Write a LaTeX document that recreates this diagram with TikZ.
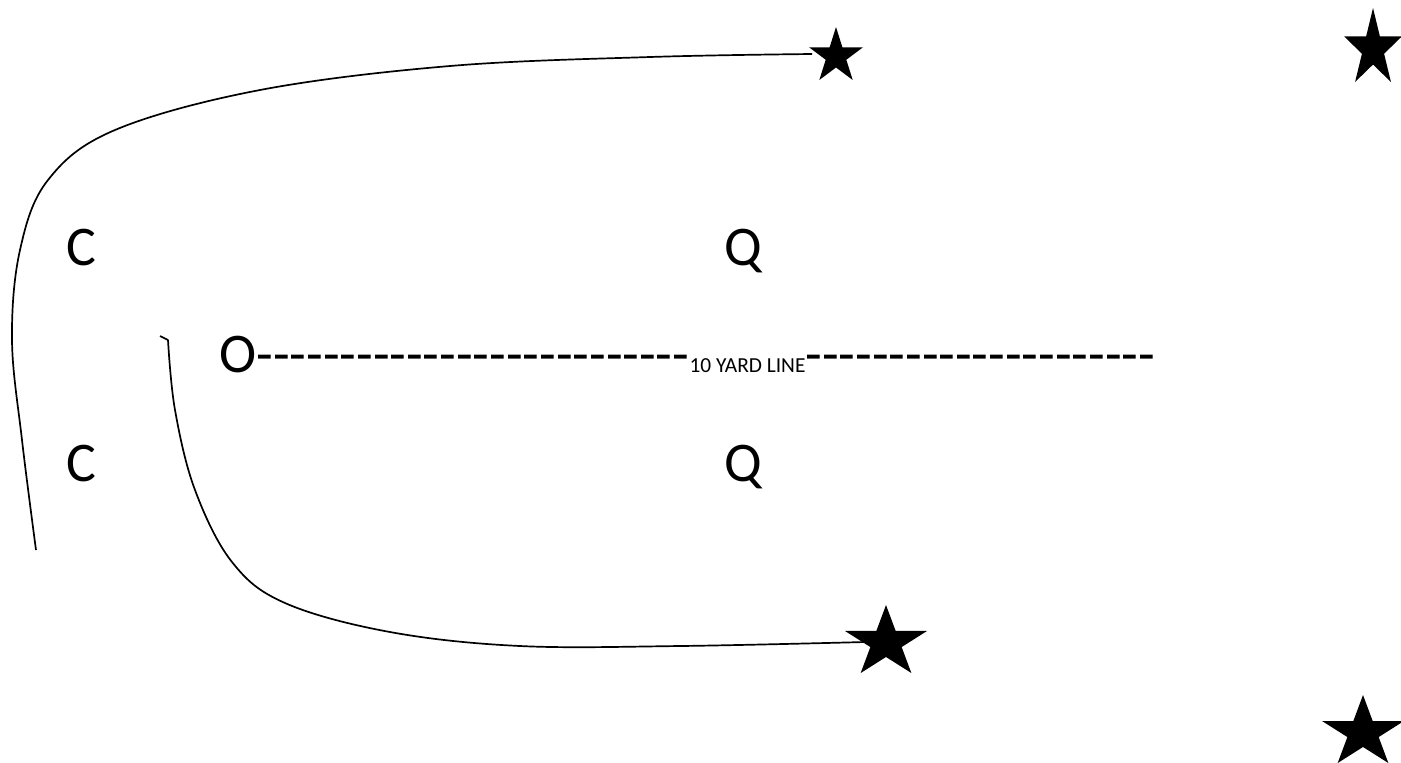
\documentclass[tikz,border=0pt]{standalone}
\usepackage{fontspec}
\setmainfont{Carlito}
\tikzset{
  bigtext/.style={font=\fontsize{28}{30}\selectfont, inner sep=0pt, anchor=base west},
  route/.style={line width=0.85pt, black},
  pics/fivestar/.style={code={\fill[black] (0,-1) -- (0.2245,-0.309) -- (0.951,-0.309) -- (0.363,0.118) -- (0.588,0.809) -- (0,0.382) -- (-0.588,0.809) -- (-0.363,0.118) -- (-0.951,-0.309) -- (-0.2245,-0.309) -- cycle;}}
}
\begin{document}
\begin{tikzpicture}[x=0.5pt, y=-0.5pt]
\useasboundingbox (0,0) rectangle (1401,762);
% stars
\coordinate (s1) at (836,56.3);
\coordinate (s2) at (1373,48.9);
\coordinate (s3) at (886,642.6);
\coordinate (s4) at (1363,732.6);
% routes
\draw[route] plot[smooth, tension=0.6] coordinates {(36,550) (22,440) (12,340) (20,250) (48,180) (115,130) (260,90) (450,66) (650,57) (812,54)};
\draw[route] (160,336) -- (168,340) plot[smooth, tension=0.6] coordinates {(168,340) (175,410) (195,490) (232,562) (285,603) (390,632) (520,646) (680,646) (865,642)};
\pic[xscale=28.4, yscale=29.3] at (s1) {fivestar};
\pic[xscale=30.5, yscale=40.9] at (s2) {fivestar};
\pic[xscale=43.1, yscale=37.6] at (s3) {fivestar};
\pic[xscale=43.1, yscale=37.6] at (s4) {fivestar};
% letters
\node[bigtext] (c1) at (66,265) {C};
\node[bigtext] (q1) at (724,265) {Q};
\node[bigtext] (c2) at (66,481) {C};
\node[bigtext] (q2) at (724,481) {Q};
\node[bigtext] (o) at (219,372) {O{\fontsize{27.2}{30}\selectfont -{}-{}-{}-{}-{}-{}-{}-{}-{}-{}-{}-{}-{}-{}-{}-{}-{}-{}-{}-{}-{}-{}-{}-{}-{}-{}}{\fontsize{10.7}{12}\selectfont 10 YARD LINE}{\fontsize{27.2}{30}\selectfont -{}-{}-{}-{}-{}-{}-{}-{}-{}-{}-{}-{}-{}-{}-{}-{}-{}-{}-{}-{}-{}}};
\end{tikzpicture}
\end{document}
